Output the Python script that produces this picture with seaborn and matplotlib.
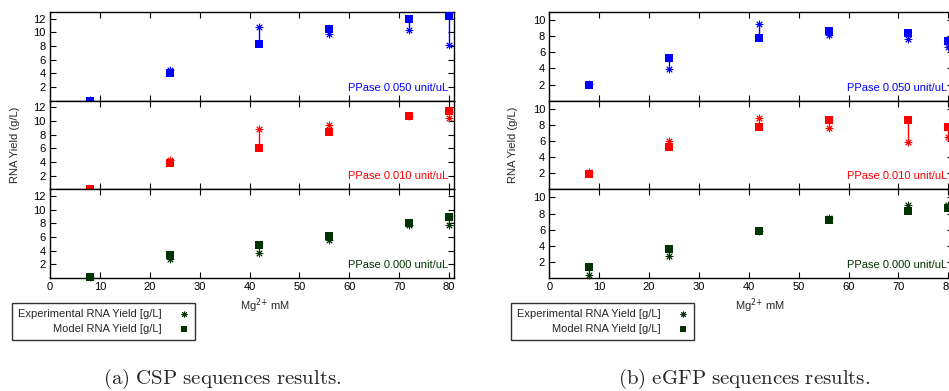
import numpy as np
import pandas as pd
import matplotlib
matplotlib.use("Agg")
import matplotlib.pyplot as plt
import seaborn as sns

# Mg2+ concentrations (mM)
mg = [8, 24, 42, 56, 72, 80]

# CSP sequences: model / experimental RNA yield (g/L) for each PPase level
csp_model_050 = [0.0, 4.0, 8.3, 10.5, 12.0, 12.4]
csp_exp_050 = [0.1, 4.5, 10.8, 9.8, 10.3, 8.1]
csp_model_010 = [0.0, 3.8, 6.1, 8.4, 10.8, 11.5]
csp_exp_010 = [0.1, 4.3, 8.8, 9.5, 10.8, 10.4]
csp_model_000 = [0.2, 3.4, 4.8, 6.2, 8.0, 8.9]
csp_exp_000 = [0.2, 2.8, 3.7, 5.6, 7.7, 7.8]

# eGFP sequences
gfp_model_050 = [2.0, 5.3, 7.8, 8.7, 8.4, 7.4]
gfp_exp_050 = [2.1, 3.9, 9.5, 8.1, 7.6, 6.6]
gfp_model_010 = [1.95, 5.3, 7.7, 8.55, 8.55, 7.7]
gfp_exp_010 = [2.2, 6.0, 8.9, 7.6, 5.9, 6.5]
gfp_model_000 = [1.4, 3.55, 5.8, 7.25, 8.35, 8.7]
gfp_exp_000 = [0.4, 2.7, 5.8, 7.5, 9.0, 9.0]

ppase_labels = ["PPase 0.050 unit/uL", "PPase 0.010 unit/uL", "PPase 0.000 unit/uL"]
ppase_colors = ["#0000ff", "#ff0000", "#003300"]

sns.set_theme(style="ticks")
plt.rcParams["font.family"] = ["Liberation Sans", "DejaVu Sans"]
plt.rcParams["mathtext.fontset"] = "cm"

fig = plt.figure(figsize=(9.49, 3.91), dpi=100)
W, H = 949.0, 391.0

star = (8, 2, 0)

def make_panel(left_px, ymax, yticks, models, exps, ylabel_x, xlabel_x, caption_x, caption):
    tops = [12, 100.67, 189.33]
    ph = 88.67
    axes = []
    for i, top in enumerate(tops):
        ax = fig.add_axes([left_px / W, 1 - (top + ph) / H, 404 / W, ph / H])
        col = ppase_colors[i]
        df = pd.DataFrame({"mg": mg, "model": models[i], "exp": exps[i]})
        ax.vlines(df["mg"], df["exp"], df["model"], color=col, lw=1.0, zorder=2)
        sns.scatterplot(data=df, x="mg", y="model", marker="s", s=30, color=col,
                        edgecolor=col, linewidth=0, ax=ax, clip_on=False, zorder=3,
                        label="Model RNA Yield [g/L]")
        sns.scatterplot(data=df, x="mg", y="exp", marker=star, s=24, color=col,
                        edgecolor=col, linewidth=0.7, ax=ax, clip_on=False, zorder=4,
                        label="Experimental RNA Yield [g/L]")
        ax.set_xlim(0, 81)
        ax.set_ylim(0, ymax)
        ax.set_yticks(yticks)
        ax.set_xticks(range(0, 81, 10))
        ax.tick_params(direction="in", length=4, width=0.8, top=True, right=True,
                       labelsize=8, colors="black", pad=3)
        for sp in ax.spines.values():
            sp.set_linewidth(1.0)
            sp.set_color("black")
        ax.set_xlabel("")
        ax.set_ylabel("")
        if i < 2:
            ax.tick_params(labelbottom=False)
        ax.text(0.985, 0.147, ppase_labels[i], transform=ax.transAxes, ha="right",
                va="center", fontsize=8, color=col)
        ax.get_legend().remove()
        axes.append(ax)

    ax = axes[-1]
    handles, labels = ax.get_legend_handles_labels()
    order = [1, 0]
    leg = ax.legend([handles[j] for j in order], [labels[j] for j in order],
                    loc="upper left", bbox_to_anchor=((left_px - 38) / W, 1 - 302.7 / H),
                    bbox_transform=fig.transFigure, markerfirst=False, frameon=True,
                    fancybox=False, edgecolor="black", fontsize=8, handlelength=0.8,
                    handletextpad=1.6, borderpad=0.55, labelspacing=0.5,
                    borderaxespad=0, markerscale=0.75)
    leg.get_frame().set_linewidth(1.0)

    fig.text(ylabel_x / W, 1 - 144.5 / H, "RNA Yield (g/L)", rotation=90,
             ha="center", va="center", fontsize=8)
    fig.text(xlabel_x / W, 1 - 306 / H, r"Mg$^{2{+}}$ mM", ha="center", va="center",
             fontsize=8, math_fontfamily="dejavusans")
    fig.text(caption_x / W, 1 - 379 / H, caption, ha="center", va="center", fontsize=15)

make_panel(50, 13, [2, 4, 6, 8, 10, 12],
           [csp_model_050, csp_model_010, csp_model_000],
           [csp_exp_050, csp_exp_010, csp_exp_000],
           15, 265, 222, r"$\mathrm{(a)\ CSP\ sequences\ results.}$")
make_panel(549.3, 11, [2, 4, 6, 8, 10],
           [gfp_model_050, gfp_model_010, gfp_model_000],
           [gfp_exp_050, gfp_exp_010, gfp_exp_000],
           513, 760, 744, r"$\mathrm{(b)\ eGFP\ sequences\ results.}$")

fig.savefig("out.png", dpi=100)
